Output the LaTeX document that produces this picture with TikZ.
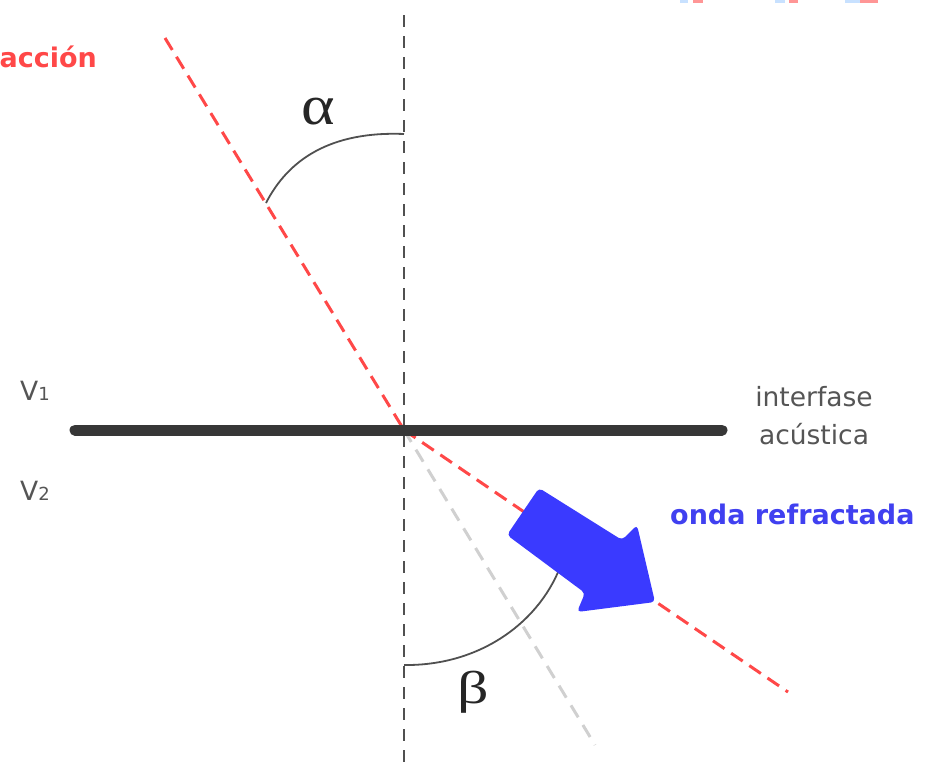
\documentclass[tikz,border=0pt]{standalone}
\usepackage{fontspec}
\usepackage{graphicx}
\setmainfont{DejaVu Sans}
\newfontfamily\greekfont{Liberation Serif}
\definecolor{rayred}{RGB}{255,72,72}
\definecolor{arrblue}{RGB}{58,58,255}
\definecolor{txtblue}{RGB}{64,64,240}
\definecolor{txtgray}{RGB}{85,85,85}
\definecolor{axisgray}{RGB}{80,80,80}
\definecolor{ghost}{RGB}{208,208,208}
\definecolor{ifcol}{RGB}{55,55,55}
\definecolor{fragblue}{RGB}{200,225,255}
\definecolor{fragred}{RGB}{255,150,150}
\tikzset{
  normalline/.style={draw=axisgray, line width=2pt, dash pattern=on 12pt off 9pt},
  rayline/.style={draw=rayred, line width=3pt, dash pattern=on 14pt off 8pt},
  ghostline/.style={draw=ghost, line width=3pt, dash pattern=on 14pt off 9pt},
  anglearc/.style={draw=axisgray, line width=1.8pt},
  labeltext/.style={text=txtgray, font=\fontsize{26.5}{38}\selectfont, inner sep=0pt},
  boldred/.style={text=rayred, font=\fontsize{27}{30}\selectfont\bfseries, inner sep=0pt},
  boldblue/.style={text=txtblue, font=\fontsize{27}{30}\selectfont\bfseries, inner sep=0pt},
  greek/.style={text=black!85, inner sep=0pt, font=\greekfont}
}
\begin{document}
\begin{tikzpicture}[x=1pt,y=-1pt]
\useasboundingbox (0,0) rectangle (932,763);
% key points
\coordinate (O) at (404,430);
\coordinate (vtop) at (404,15);
\coordinate (vbot) at (404,763);
\coordinate (itop) at (165,38);
\coordinate (rend) at (788,692);
\coordinate (gend) at (595,745);
\coordinate (ifl) at (75,430);
\coordinate (ifr) at (722,430);
\coordinate (a1) at (404,134);
\coordinate (a2) at (266,203);
\coordinate (b1) at (404,665);
\coordinate (b2) at (562,562);
% cut-off fragments at top edge
\fill[fragblue] (680,0) rectangle (688,3);
\fill[fragred] (693,0) rectangle (703,3);
\fill[fragblue] (775,0) rectangle (785,3);
\fill[fragred] (789,0) rectangle (798,3);
\fill[fragblue] (845,0) rectangle (860,3);
\fill[fragred] (860,0) rectangle (878,3);
% normal
\draw[normalline] (vtop) -- (vbot);
% ghost continuation
\draw[ghostline] (O) -- (gend);
% angle arcs
\draw[anglearc] (a1) .. controls (330,131) and (288,160) .. (a2);
\draw[anglearc] (b1) .. controls (482,666) and (542,620) .. (b2);
% rays
\draw[rayline] (itop) -- (O);
\draw[rayline] (O) -- (rend);
% interface
\draw[ifcol, line width=11pt, line cap=round] (ifl) -- (ifr);
% refracted arrow
\fill[arrblue, rounded corners=4pt]
  (539,488) -- (622,540) -- (637,525) -- (655,602) -- (577,612) -- (585,593) -- (507,535) -- cycle;
% labels
\node[greek] (alpha) at (318,112) {\scalebox{6.4}[5.6]{α}};
\node[greek] (beta) at (473,692) {\scalebox{6.2}[4.6]{β}};
\node[labeltext, anchor=base west] (v1) at (20,400) {V\raisebox{0pt}{\fontsize{18}{20}\selectfont 1}};
\node[labeltext, anchor=base west] (v2) at (20,500) {V\raisebox{0pt}{\fontsize{18}{20}\selectfont 2}};
\node[labeltext, align=center, anchor=north] (iface) at (814,386) {interfase\\acústica};
\node[boldblue, anchor=base west] (onda) at (670,524) {onda refractada};
\node[boldred, anchor=base east] (inc) at (97,67) {acción};
\end{tikzpicture}
\end{document}
